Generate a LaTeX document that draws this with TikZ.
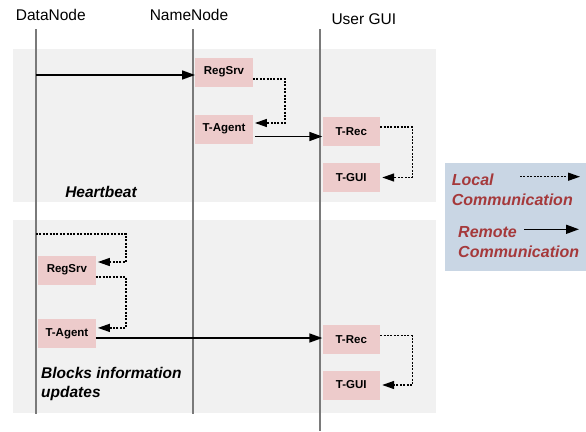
\documentclass[tikz,border=0pt]{standalone}
\usepackage{fontspec}
\setmainfont{Liberation Sans}
\usetikzlibrary{arrows.meta}
\definecolor{panelgray}{HTML}{F1F1F1}
\definecolor{boxpink}{HTML}{EDCBCB}
\definecolor{lifegray}{HTML}{7A7A7A}
\definecolor{legendblue}{HTML}{C9D6E4}
\definecolor{legendred}{HTML}{A5393B}
\tikzset{
  panel/.style={fill=panelgray, draw=none},
  lifeline/.style={draw=lifegray, line width=2pt},
  headlabel/.style={font=\fontsize{15.5}{18}\selectfont, inner sep=0pt},
  msgbox/.style={fill=boxpink, draw=none, minimum width=57.5pt, minimum height=29pt, inner sep=0pt,
    font=\bfseries\fontsize{11.5}{13}\selectfont},
  remote/.style={-{Triangle[length=13pt,width=9pt]}, line width=1.6pt, draw=black},
  local/.style={-{Triangle[length=12pt,width=8pt]}, line width=1.4pt, dash pattern=on 2pt off 1.4pt, draw=black, shorten >=2pt},
  phase/.style={font=\bfseries\itshape\fontsize{15.5}{19}\selectfont, inner sep=0pt, align=left},
  legendtext/.style={font=\bfseries\itshape\fontsize{16}{19.5}\selectfont, text=legendred, inner sep=0pt, align=left},
}
\begin{document}
\begin{tikzpicture}[x=1pt, y=-1pt]
\useasboundingbox (0,0) rectangle (586,431);
% panels
\path[panel] (13,49) rectangle (436,202);
\path[panel] (13,220) rectangle (436,413);
% legend background
\path[fill=legendblue] (445,163) rectangle (586,271);
% lifelines
\coordinate (dnTop) at (36,29);
\coordinate (dnBot) at (36,414);
\coordinate (nnTop) at (193,29);
\coordinate (nnBot) at (193,414);
\coordinate (ugTop) at (320,29);
\coordinate (ugBot) at (320,431);
\draw[lifeline] (dnTop) -- (dnBot);
\draw[lifeline] (nnTop) -- (nnBot);
\draw[lifeline] (ugTop) -- (ugBot);
% headers
\node[headlabel] (hdn) at (50.8,15) {DataNode};
\node[headlabel] (hnn) at (189,15) {NameNode};
\node[headlabel] (hug) at (363.8,19) {User GUI};
% boxes
\node[msgbox] (rs1) at (224,72) {RegSrv};
\node[msgbox] (ta1) at (224,129) {T-Agent};
\node[msgbox] (tr1) at (351.25,131.8) {T-Rec};
\node[msgbox] (tg1) at (351.25,177.5) {T-GUI};
\node[msgbox] (rs2) at (66.9,270) {RegSrv};
\node[msgbox] (ta2) at (66.9,333.4) {T-Agent};
\node[msgbox] (tr2) at (351.25,339.2) {T-Rec};
\node[msgbox] (tg2) at (351.25,385) {T-GUI};
% phase labels
\node[phase] (hb) at (101,192) {Heartbeat};
\node[phase, anchor=west] (biu) at (41,383.5) {Blocks information\\updates};
% heartbeat connectors
\path ([yshift=-3pt]rs1.west) coordinate (a1e);
\draw[remote] (dnTop |- a1e) -- (a1e);
\draw[local] ([yshift=-7pt]rs1.east) -- ++(32,0) |- ([yshift=6pt]ta1.east);
\path ([yshift=-7.5pt,xshift=2pt]ta1.east) coordinate (a3s);
\draw[remote] (a3s) -- (tr1.west |- a3s);
\draw[local] ([yshift=5pt]tr1.east) -- ++(32,0) |- (tg1.east);
% block info connectors
\path ([yshift=8pt]rs2.east) coordinate (b1e);
\draw[local] (dnTop |- 0,234) -| ([xshift=30pt]b1e) -- (b1e);
\draw[local] ([yshift=-7pt]rs2.east) -- ++(30,0) |- ([yshift=5.5pt]ta2.east);
\path ([yshift=-4.6pt]ta2.east) coordinate (b3s);
\draw[remote] (b3s) -- (tr2.west |- b3s);
\draw[local] ([yshift=3.5pt]tr2.east) -- ++(32,0) |- (tg2.east);
% legend
\node[legendtext, anchor=west] (lloc) at (451.7,189.6) {Local\\Communication};
\node[legendtext, anchor=west] (lrem) at (458,242.2) {Remote\\Communication};
\coordinate (l1s) at (520,176.7);
\coordinate (l1e) at (580,176.7);
\coordinate (l2s) at (524,229.3);
\coordinate (l2e) at (579,229.3);
\draw[local, shorten >=0pt] (l1s) -- (l1e);
\draw[remote] (l2s) -- (l2e);
\end{tikzpicture}
\end{document}
